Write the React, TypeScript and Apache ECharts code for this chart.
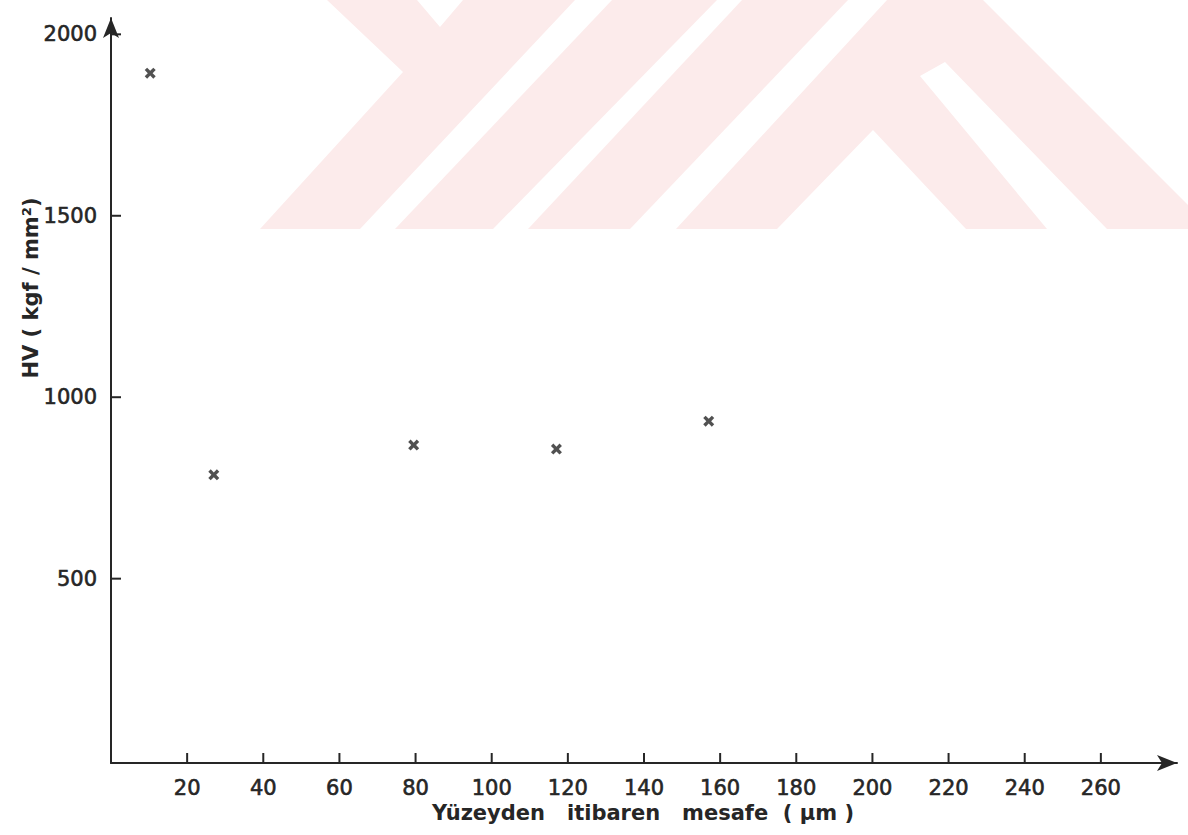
import React, { useEffect, useRef } from "react";
import * as echarts from "echarts";

const xTicks = [20, 40, 60, 80, 100, 120, 140, 160, 180, 200, 220, 240, 260];
const yTicks = [500, 1000, 1500, 2000];
const distance = [10.3, 27, 79.5, 117, 157];
const hardness = [1893, 786, 868, 857, 934];
const xTitle = "Yüzeyden   itibaren   mesafe  ( µm )";
const yTitle = "HV ( kgf / mm²)";

const crossPath =
  "path://M0,2.2 L2.2,0 L5,2.8 L7.8,0 L10,2.2 L7.2,5 L10,7.8 L7.8,10 L5,7.2 L2.2,10 L0,7.8 L2.8,5 Z";

const ink = "#262626";
const pink = "#fcebeb";
const X_MIN = 0;
const X_MAX = 280;
const Y_MIN = -8;
const Y_MAX = 2045;

export default function App() {
  const ref = useRef<HTMLDivElement>(null);
  useEffect(() => {
    if (!ref.current) return;
    const chart = echarts.init(ref.current, undefined, { renderer: "svg" });
    const font = "'DejaVu Sans', sans-serif";
    const tickItem = (vertical: boolean) => (params: any, api: any) => {
      const p = api.coord([api.value(0), api.value(1)]);
      return {
        type: "line",
        shape: vertical
          ? { x1: p[0], y1: p[1], x2: p[0], y2: p[1] - 10 }
          : { x1: p[0], y1: p[1], x2: p[0] + 10, y2: p[1] },
        style: { stroke: ink, lineWidth: 2 },
      };
    };
    const labelStyle = {
      color: ink,
      fontFamily: font,
      fontSize: 21,
      textBorderColor: ink,
      textBorderWidth: 0.6,
    };
    chart.setOption({
      animation: false,
      backgroundColor: "#ffffff",
      grid: { left: 111, right: 11, top: 18, bottom: 72, containLabel: false },
      graphic: [
        {
          type: "polygon",
          silent: true,
          z: -10,
          shape: {
            points: [
              [327, 0], [417, 0], [440, 27], [463, 0], [575, 0],
              [360, 229], [260, 229], [403, 72],
            ],
          },
          style: { fill: pink },
        },
        {
          type: "polygon",
          silent: true,
          z: -10,
          shape: { points: [[395, 229], [612, 0], [717, 0], [493, 229]] },
          style: { fill: pink },
        },
        {
          type: "polygon",
          silent: true,
          z: -10,
          shape: { points: [[528, 229], [742, 0], [848, 0], [630, 229]] },
          style: { fill: pink },
        },
        {
          type: "polygon",
          silent: true,
          z: -10,
          shape: {
            points: [
              [676, 229], [887, 0], [983, 0], [1212, 229], [1107, 229],
              [945, 62], [920, 76], [1047, 229], [966, 229], [873, 130], [777, 229],
            ],
          },
          style: { fill: pink },
        },
        {
          type: "text",
          x: 31,
          y: 288,
          rotation: Math.PI / 2,
          style: {
            text: yTitle,
            fill: ink,
            font: `bold 21px ${font}`,
            align: "center",
            verticalAlign: "middle",
          },
        },
        {
          type: "text",
          x: 643,
          y: 813,
          style: {
            text: xTitle,
            fill: ink,
            font: `bold 21px ${font}`,
            align: "center",
            verticalAlign: "middle",
          },
        },
      ],
      xAxis: {
        type: "value",
        min: X_MIN,
        max: X_MAX,
        splitLine: { show: false },
        axisLine: {
          show: true,
          onZero: false,
          symbol: ["none", "arrow"],
          symbolSize: [12, 20],
          lineStyle: { color: ink, width: 2 },
        },
        axisTick: { show: false },
        axisLabel: {
          show: true,
          customValues: xTicks,
          formatter: (v: number) => String(v),
          margin: 14,
          ...labelStyle,
        },
      },
      yAxis: {
        type: "value",
        min: Y_MIN,
        max: Y_MAX,
        splitLine: { show: false },
        axisLine: {
          show: true,
          onZero: false,
          symbol: ["none", "arrow"],
          symbolSize: [12, 20],
          lineStyle: { color: ink, width: 2 },
        },
        axisTick: { show: false },
        axisLabel: {
          show: true,
          customValues: yTicks,
          formatter: (v: number) => String(v),
          margin: 14,
          padding: [7, 0, 0, 0],
          ...labelStyle,
        },
      },
      series: [
        {
          type: "custom",
          silent: true,
          clip: false,
          data: xTicks.map((v) => [v, Y_MIN]),
          renderItem: tickItem(true),
        },
        {
          type: "custom",
          silent: true,
          clip: false,
          data: yTicks.map((v) => [X_MIN, v]),
          renderItem: tickItem(false),
        },
        {
          type: "scatter",
          data: distance.map((d, i) => [d, hardness[i]]),
          symbol: crossPath,
          symbolSize: 11,
          itemStyle: { color: ink },
        },
      ],
    });
    return () => chart.dispose();
  }, []);
  return (
    <div
      ref={ref}
      style={{ position: "fixed", left: 0, top: 0, width: 1188, height: 835 }}
    />
  );
}
